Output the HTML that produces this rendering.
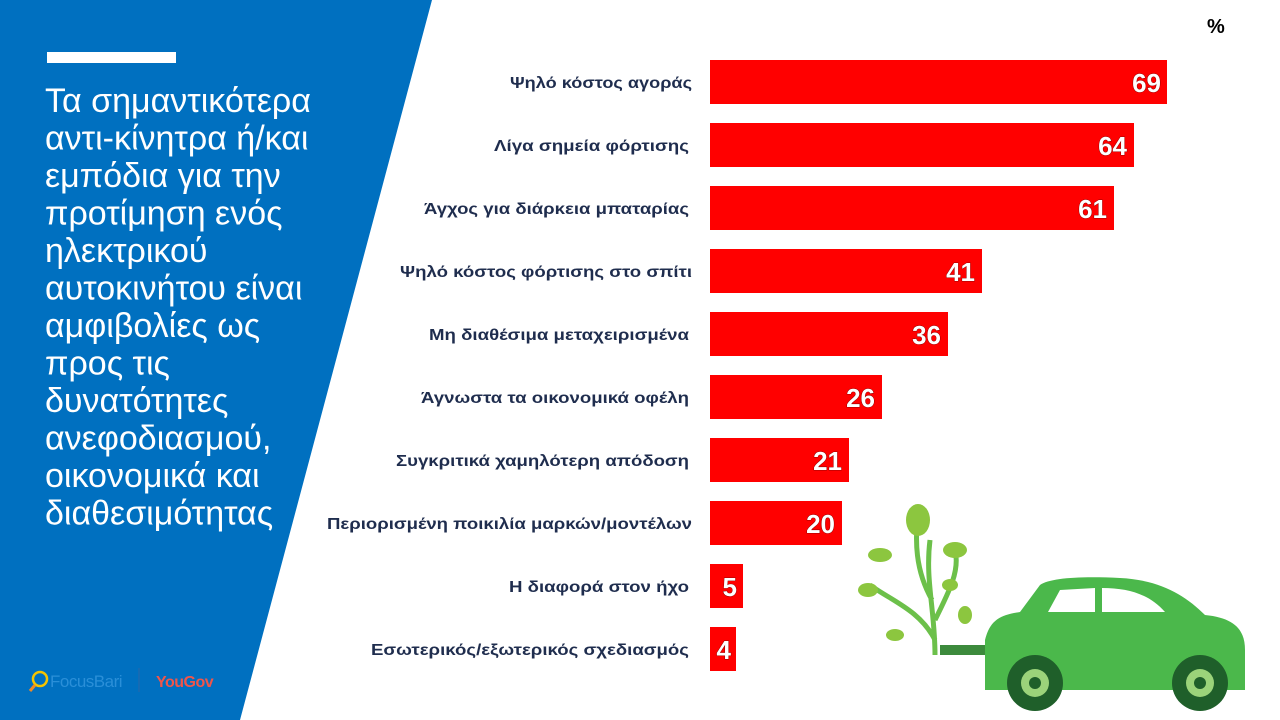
<!DOCTYPE html>
<html><head><meta charset="utf-8"><style>
body{margin:0;width:1280px;height:720px;overflow:hidden;background:#fff;font-family:"Liberation Sans",sans-serif}
</style></head><body>
<svg width="1280" height="720" xmlns="http://www.w3.org/2000/svg" style="position:absolute;left:0;top:0">
<polygon points="0,0 432,0 240,720 0,720" fill="#0070c0"/>
<rect x="47" y="52" width="129" height="11" fill="#fff"/>
<g font-family="Liberation Sans, sans-serif" font-size="34" fill="#fff">
<text x="45" y="112">Τα σημαντικότερα</text>
<text x="45" y="149.5">αντι-κίνητρα ή/και</text>
<text x="45" y="187">εμπόδια για την</text>
<text x="45" y="224.5">προτίμηση ενός</text>
<text x="45" y="262">ηλεκτρικού</text>
<text x="45" y="299.5">αυτοκινήτου είναι</text>
<text x="45" y="337">αμφιβολίες ως</text>
<text x="45" y="374.5">προς τις</text>
<text x="45" y="412">δυνατότητες</text>
<text x="45" y="449.5">ανεφοδιασμού,</text>
<text x="45" y="487">οικονομικά και</text>
<text x="45" y="524.5">διαθεσιμότητας</text>
</g>
<circle cx="40" cy="679" r="7" fill="none" stroke="#f5c400" stroke-width="2.5"/>
<line x1="35" y1="685" x2="30" y2="691" stroke="#f08a24" stroke-width="3"/>
<text x="50" y="687" font-size="17" fill="#2a8fd8" letter-spacing="-0.5">FocusBari</text>
<line x1="139" y1="668" x2="139" y2="692" stroke="#2a66a8"/>
<text x="156" y="687" font-size="16" fill="#f0554a" font-weight="bold" letter-spacing="-0.5">YouGov</text>
<text x="1207" y="33" font-size="20" font-weight="bold" fill="#000">%</text>
<g font-size="16" font-weight="bold" fill="#1f2d4e" lengthAdjust="spacingAndGlyphs">
<text x="510" y="88" textLength="182" lengthAdjust="spacingAndGlyphs">Ψηλό κόστος αγοράς</text>
<text x="494" y="151" textLength="195" lengthAdjust="spacingAndGlyphs">Λίγα σημεία φόρτισης</text>
<text x="424" y="214" textLength="265" lengthAdjust="spacingAndGlyphs">Άγχος για διάρκεια μπαταρίας</text>
<text x="400" y="277" textLength="292" lengthAdjust="spacingAndGlyphs">Ψηλό κόστος φόρτισης στο σπίτι</text>
<text x="429" y="340" textLength="260" lengthAdjust="spacingAndGlyphs">Μη διαθέσιμα μεταχειρισμένα</text>
<text x="421" y="403" textLength="268" lengthAdjust="spacingAndGlyphs">Άγνωστα τα οικονομικά οφέλη</text>
<text x="396" y="466" textLength="293" lengthAdjust="spacingAndGlyphs">Συγκριτικά χαμηλότερη απόδοση</text>
<text x="327" y="529" textLength="365" lengthAdjust="spacingAndGlyphs">Περιορισμένη ποικιλία μαρκών/μοντέλων</text>
<text x="509" y="592" textLength="180" lengthAdjust="spacingAndGlyphs">Η διαφορά στον ήχο</text>
<text x="371" y="655" textLength="318" lengthAdjust="spacingAndGlyphs">Εσωτερικός/εξωτερικός σχεδιασμός</text>
</g>
<g fill="#ff0000">
<rect x="710" y="60" width="457" height="44"/>
<rect x="710" y="123" width="424" height="44"/>
<rect x="710" y="186" width="404" height="44"/>
<rect x="710" y="249" width="272" height="44"/>
<rect x="710" y="312" width="238" height="44"/>
<rect x="710" y="375" width="172" height="44"/>
<rect x="710" y="438" width="139" height="44"/>
<rect x="710" y="501" width="132" height="44"/>
<rect x="710" y="564" width="33" height="44"/>
<rect x="710" y="627" width="26" height="44"/>
</g>
<g font-size="26" font-weight="bold" fill="#fff" text-anchor="end" style="paint-order:stroke" stroke="#700" stroke-width="0.8">
<text x="1161" y="92">69</text>
<text x="1127" y="155">64</text>
<text x="1107" y="218">61</text>
<text x="975" y="281">41</text>
<text x="941" y="344">36</text>
<text x="875" y="407">26</text>
<text x="842" y="470">21</text>
<text x="835" y="533">20</text>
<text x="737" y="596">5</text>
<text x="731" y="659">4</text>
</g>
<g>
<path d="M935,655 C935,610 925,580 930,540 M935,640 C920,610 890,600 870,585 M935,620 C950,590 960,570 955,550 M932,600 C915,570 915,540 918,515" stroke="#6cc04a" stroke-width="5" fill="none"/>
<ellipse cx="918" cy="520" rx="12" ry="16" fill="#8cc63f"/>
<ellipse cx="955" cy="550" rx="12" ry="8" fill="#8cc63f"/>
<ellipse cx="880" cy="555" rx="12" ry="7" fill="#8cc63f"/>
<ellipse cx="868" cy="590" rx="10" ry="7" fill="#8cc63f"/>
<ellipse cx="950" cy="585" rx="8" ry="6" fill="#8cc63f"/>
<ellipse cx="895" cy="635" rx="9" ry="6" fill="#8cc63f"/>
<ellipse cx="965" cy="615" rx="7" ry="9" fill="#8cc63f"/>
<path d="M940,650 L985,650" stroke="#3c8a3c" stroke-width="10"/>
<path d="M985,690 L985,640 C990,620 1000,615 1020,612 L1040,585 C1050,578 1080,576 1120,578 C1160,580 1185,595 1205,615 C1235,618 1245,630 1245,650 L1245,690 Z" fill="#4bb84b"/>
<path d="M1048,612 L1060,590 L1095,588 L1095,612 Z M1102,612 L1102,588 C1130,588 1150,595 1165,612 Z" fill="#fff"/>
<circle cx="1035" cy="683" r="28" fill="#1f5f2a"/>
<circle cx="1035" cy="683" r="14" fill="#9bd37a"/>
<circle cx="1035" cy="683" r="6" fill="#1f5f2a"/>
<circle cx="1200" cy="683" r="28" fill="#1f5f2a"/>
<circle cx="1200" cy="683" r="14" fill="#9bd37a"/>
<circle cx="1200" cy="683" r="6" fill="#1f5f2a"/>
</g>
</svg>
</body></html>
